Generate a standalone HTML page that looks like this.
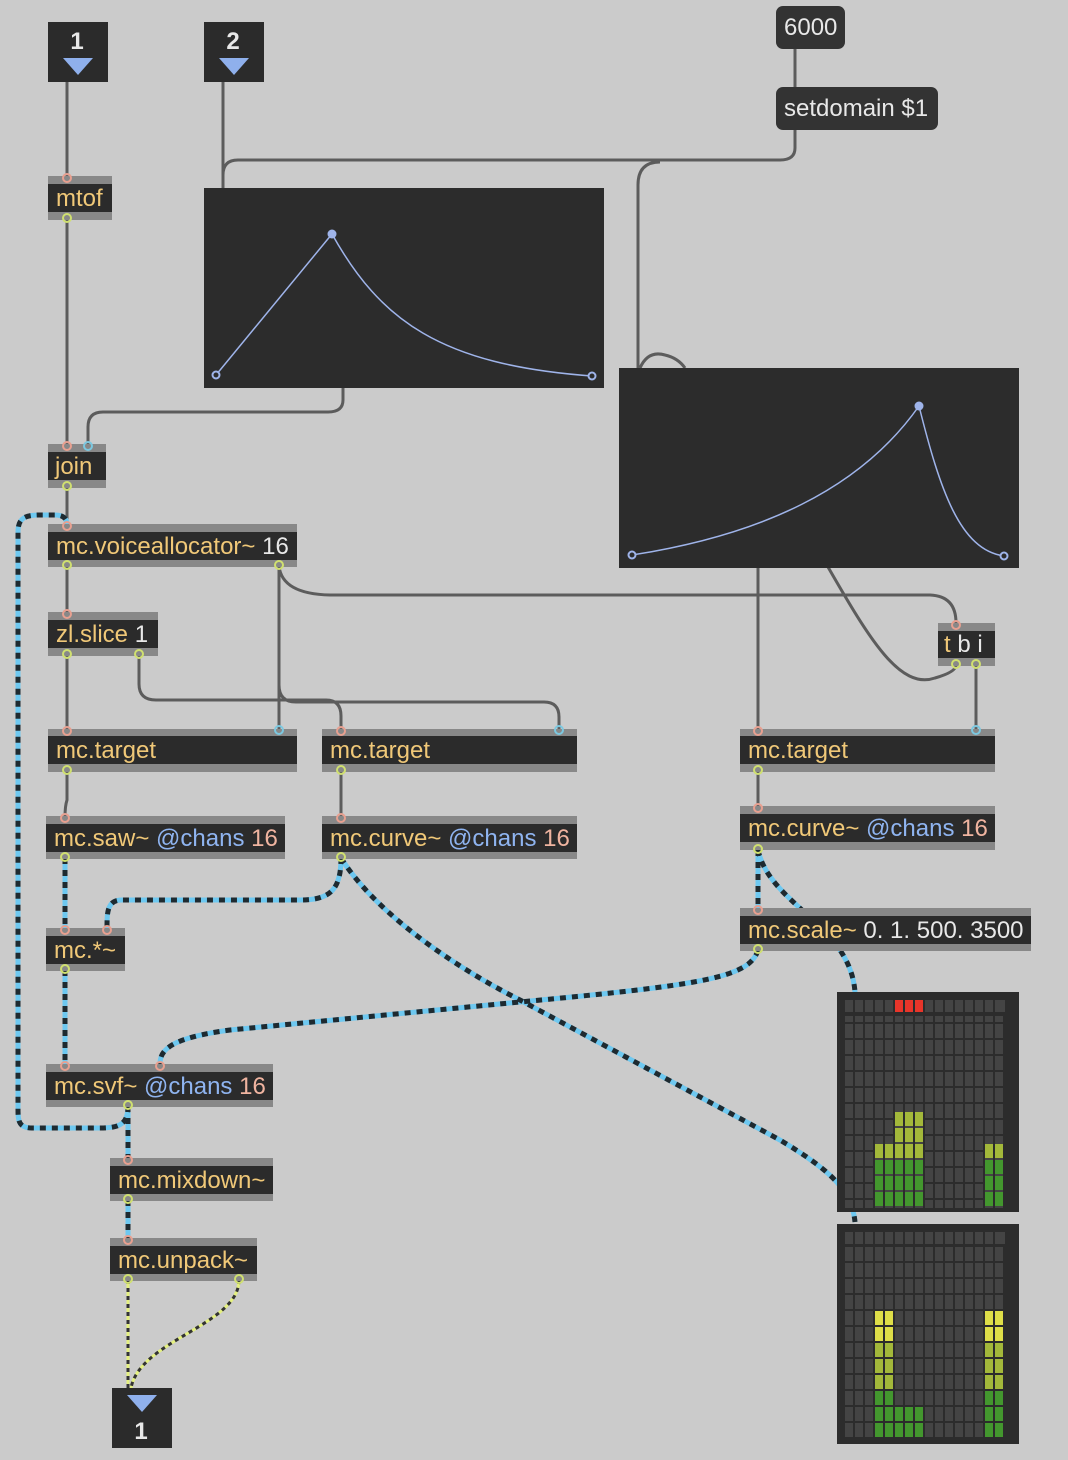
<!DOCTYPE html>
<html><head><meta charset="utf-8"><style>
html,body{margin:0;padding:0;background:#cbcbcb;}
svg{display:block;}
text{font-family:"Liberation Sans",sans-serif;font-size:24px;}
.o{fill:#f0c878}.w{fill:#e8e8e8}.b{fill:#8fb4f0}.p{fill:#f0b4a0}
.cc{fill:none;stroke:#5c5c5c;stroke-width:3;}
.mb{fill:none;stroke:#6ec8f0;stroke-width:5;}
.md{fill:none;stroke:#1e2a30;stroke-width:5;stroke-dasharray:6 6;}
</style></head><body>
<svg width="1068" height="1460" viewBox="0 0 1068 1460" xmlns="http://www.w3.org/2000/svg">
<defs>
<pattern id="cell" x="845" y="0" width="10" height="16" patternUnits="userSpaceOnUse"><rect x="0" y="0" width="8" height="14" fill="#444"/></pattern>
<pattern id="cell2" x="845" y="1247" width="10" height="16" patternUnits="userSpaceOnUse"><rect x="0" y="0" width="8" height="14" fill="#444"/></pattern>
<path id="c1" d="M65,858 V929"/>
<path id="c2" d="M341,858 C341,890 330,900 300,900 L122,900 C107,900 107,912 107,929"/>
<path id="c3" d="M341,858 C380,920 470,975 520,1000 L780,1140 C830,1170 852,1190 855,1222"/>
<path id="c4" d="M758,850 V908"/>
<path id="c5" d="M758,850 C770,905 850,925 855,992"/>
<path id="c6" d="M758,950 C750,978 700,985 520,1002 L230,1030 C170,1038 160,1050 160,1064"/>
<path id="c7" d="M65,970 V1064"/>
<path id="c8" d="M128,1106 V1159"/>
<path id="c9" d="M128,1106 C128,1124 120,1128 100,1128 L32,1128 C18,1128 18,1120 18,1108 L18,532 C18,518 25,515 40,515 L55,515 C65,515 67,520 67,525"/>
<path id="c10" d="M128,1200 V1239"/>
</defs>

<!-- control cables -->
<g class="cc">
<path d="M67,82 V176"/>
<path d="M67,220 V444"/>
<path d="M223,82 V188"/>
<path d="M795,49 V87"/>
<path d="M795,129 V148 Q795,160 780,160 H238 Q223,160 223,175 V188"/>
<path d="M660,162 Q638,162 638,185 V368"/>
<path d="M640,368 Q648,350 665,355 Q678,358 685,368"/>
<path d="M343,387 V400 Q343,412 328,412 H103 Q88,412 88,427 V444"/>
<path d="M67,487 V525"/>
<path d="M67,566 V612"/>
<path d="M279,566 V729"/>
<path d="M279,566 V685 Q279,702 296,702 H544 Q559,702 559,717 V729"/>
<path d="M279,566 Q282,594 330,595 H930 Q956,596 956,623"/>
<path d="M67,655 V729"/>
<path d="M139,655 V684 Q139,700 156,700 H326 Q341,700 341,716 V729"/>
<path d="M758,567 V729"/>
<path d="M828,567 C870,640 900,690 935,678 Q956,672 956,665"/>
<path d="M976,665 V729"/>
<path d="M67,771 V800 Q65,806 65,817"/>
<path d="M341,771 V817"/>
<path d="M758,771 V806"/>
</g>

<g class="mb">
<use href="#c1"/><use href="#c2"/><use href="#c3"/><use href="#c4"/><use href="#c5"/><use href="#c6"/><use href="#c7"/><use href="#c8"/><use href="#c9"/><use href="#c10"/>
</g>
<g class="md">
<use href="#c1"/><use href="#c2"/><use href="#c3"/><use href="#c4"/><use href="#c5"/><use href="#c6"/><use href="#c7"/><use href="#c8"/><use href="#c9"/><use href="#c10"/>
</g>
<path d="M128,1280 V1388" fill="none" stroke="#e4f080" stroke-width="3"/>
<path d="M239,1280 C239,1325 140,1340 131,1388" fill="none" stroke="#e4f080" stroke-width="3"/>
<path d="M128,1280 V1388" fill="none" stroke="#333" stroke-width="3" stroke-dasharray="4 4"/>
<path d="M239,1280 C239,1325 140,1340 131,1388" fill="none" stroke="#333" stroke-width="3" stroke-dasharray="4 4"/>

<rect x="48" y="22" width="60" height="60" fill="#2b2b2b"/>
<text x="77" y="49" text-anchor="middle" class="w" style="font-weight:bold">1</text>
<polygon points="63,58 93,58 78,75" fill="#8fb0ec"/>
<rect x="204" y="22" width="60" height="60" fill="#2b2b2b"/>
<text x="233" y="49" text-anchor="middle" class="w" style="font-weight:bold">2</text>
<polygon points="219,58 249,58 234,75" fill="#8fb0ec"/>
<rect x="112" y="1388" width="60" height="60" fill="#2b2b2b"/>
<polygon points="127,1395 157,1395 142,1412" fill="#8fb0ec"/>
<text x="141" y="1439" text-anchor="middle" class="w" style="font-weight:bold">1</text>

<rect x="776" y="6" width="69" height="43" rx="7" fill="#333"/>
<text x="784" y="35" class="w">6000</text>
<rect x="776" y="87" width="162" height="43" rx="7" fill="#333"/>
<text x="784" y="116" class="w">setdomain $1</text>

<rect x="204" y="188" width="400" height="200" fill="#2c2c2c"/>
<path d="M216,375 L332,234 C380,320 440,365 592,376" fill="none" stroke="#9fb4ea" stroke-width="1.5"/>
<g fill="#2c2c2c" stroke="#9fb4ea" stroke-width="2"><circle cx="216" cy="375" r="3.5"/><circle cx="592" cy="376" r="3.5"/></g>
<circle cx="332" cy="234" r="4.5" fill="#9fb4ea"/>
<rect x="619" y="368" width="400" height="200" fill="#2c2c2c"/>
<path d="M632,555 C760,535 860,490 919,406 C940,490 960,550 1004,556" fill="none" stroke="#9fb4ea" stroke-width="1.5"/>
<g fill="#2c2c2c" stroke="#9fb4ea" stroke-width="2"><circle cx="632" cy="555" r="3.5"/><circle cx="1004" cy="556" r="3.5"/></g>
<circle cx="919" cy="406" r="4.5" fill="#9fb4ea"/>

<g>
<rect x="48" y="176" width="64" height="44" fill="#888"/><rect x="48" y="184" width="64" height="28" fill="#2b2b2b"/>
<text x="56" y="206" class="o">mtof</text>
<rect x="48" y="444" width="58" height="44" fill="#888"/><rect x="48" y="452" width="58" height="28" fill="#2b2b2b"/>
<text x="55" y="474" class="o">join</text>
<rect x="48" y="524" width="249" height="43" fill="#888"/><rect x="48" y="532" width="249" height="28" fill="#2b2b2b"/>
<text x="56" y="554" class="o">mc.voiceallocator~ <tspan class="w">16</tspan></text>
<rect x="48" y="612" width="110" height="44" fill="#888"/><rect x="48" y="620" width="110" height="28" fill="#2b2b2b"/>
<text x="56" y="642" class="o">zl.slice <tspan class="w">1</tspan></text>
<rect x="938" y="623" width="57" height="43" fill="#888"/><rect x="938" y="631" width="57" height="27" fill="#2b2b2b"/>
<text x="944" y="652" class="o">t <tspan class="w">b i</tspan></text>
<rect x="48" y="729" width="249" height="43" fill="#888"/><rect x="48" y="736" width="249" height="28" fill="#2b2b2b"/>
<text x="56" y="758" class="o">mc.target</text>
<rect x="322" y="729" width="255" height="43" fill="#888"/><rect x="322" y="736" width="255" height="28" fill="#2b2b2b"/>
<text x="330" y="758" class="o">mc.target</text>
<rect x="740" y="729" width="255" height="43" fill="#888"/><rect x="740" y="736" width="255" height="28" fill="#2b2b2b"/>
<text x="748" y="758" class="o">mc.target</text>
<rect x="46" y="816" width="239" height="43" fill="#888"/><rect x="46" y="824" width="239" height="28" fill="#2b2b2b"/>
<text x="54" y="846" class="o">mc.saw~ <tspan class="b">@chans</tspan> <tspan class="p">16</tspan></text>
<rect x="322" y="816" width="255" height="43" fill="#888"/><rect x="322" y="824" width="255" height="28" fill="#2b2b2b"/>
<text x="330" y="846" class="o">mc.curve~ <tspan class="b">@chans</tspan> <tspan class="p">16</tspan></text>
<rect x="740" y="806" width="255" height="44" fill="#888"/><rect x="740" y="814" width="255" height="28" fill="#2b2b2b"/>
<text x="748" y="836" class="o">mc.curve~ <tspan class="b">@chans</tspan> <tspan class="p">16</tspan></text>
<rect x="46" y="928" width="79" height="43" fill="#888"/><rect x="46" y="936" width="79" height="28" fill="#2b2b2b"/>
<text x="54" y="958" class="o">mc.*~</text>
<rect x="740" y="908" width="291" height="43" fill="#888"/><rect x="740" y="916" width="291" height="28" fill="#2b2b2b"/>
<text x="748" y="938" class="o">mc.scale~ <tspan class="w">0. 1. 500. 3500</tspan></text>
<rect x="46" y="1064" width="227" height="43" fill="#888"/><rect x="46" y="1072" width="227" height="28" fill="#2b2b2b"/>
<text x="54" y="1094" class="o">mc.svf~ <tspan class="b">@chans</tspan> <tspan class="p">16</tspan></text>
<rect x="110" y="1158" width="163" height="43" fill="#888"/><rect x="110" y="1166" width="163" height="28" fill="#2b2b2b"/>
<text x="118" y="1188" class="o">mc.mixdown~</text>
<rect x="110" y="1238" width="147" height="43" fill="#888"/><rect x="110" y="1246" width="147" height="28" fill="#2b2b2b"/>
<text x="118" y="1268" class="o">mc.unpack~</text>
</g>

<g fill="none" stroke="#e8a090" stroke-width="2">
<circle cx="67" cy="178" r="4"/><circle cx="67" cy="446" r="4"/><circle cx="88" cy="446" r="4" stroke="#7cc8e0"/>
<circle cx="67" cy="526" r="4"/><circle cx="67" cy="614" r="4"/><circle cx="956" cy="625" r="4"/>
<circle cx="67" cy="731" r="4"/><circle cx="341" cy="731" r="4"/><circle cx="758" cy="731" r="4"/>
<circle cx="279" cy="730" r="4" stroke="#7cc8e0"/><circle cx="559" cy="730" r="4" stroke="#7cc8e0"/><circle cx="976" cy="730" r="4" stroke="#7cc8e0"/>
<circle cx="65" cy="818" r="4"/><circle cx="341" cy="818" r="4"/><circle cx="758" cy="808" r="4"/>
<circle cx="65" cy="930" r="4"/><circle cx="107" cy="930" r="4"/><circle cx="758" cy="910" r="4"/>
<circle cx="65" cy="1066" r="4"/><circle cx="160" cy="1066" r="4"/><circle cx="128" cy="1160" r="4"/><circle cx="128" cy="1240" r="4"/>
</g>
<g fill="none" stroke="#d0e070" stroke-width="2">
<circle cx="67" cy="218" r="4"/><circle cx="67" cy="486" r="4"/><circle cx="67" cy="565" r="4"/><circle cx="279" cy="565" r="4"/>
<circle cx="67" cy="654" r="4"/><circle cx="139" cy="654" r="4"/><circle cx="956" cy="664" r="4"/><circle cx="976" cy="664" r="4"/>
<circle cx="67" cy="770" r="4"/><circle cx="341" cy="770" r="4"/><circle cx="758" cy="770" r="4"/>
<circle cx="65" cy="857" r="4"/><circle cx="341" cy="857" r="4"/><circle cx="758" cy="849" r="4"/>
<circle cx="65" cy="969" r="4"/><circle cx="758" cy="949" r="4"/><circle cx="128" cy="1105" r="4"/><circle cx="128" cy="1199" r="4"/>
<circle cx="128" cy="1279" r="4"/><circle cx="239" cy="1279" r="4"/>
</g>

<rect x="837" y="992" width="182" height="220" fill="#2c2c2c"/>
<rect x="845" y="1000" width="160" height="12" fill="#444"/>
<g fill="#2c2c2c"><rect x="853" y="1000" width="2" height="12"/><rect x="863" y="1000" width="2" height="12"/><rect x="873" y="1000" width="2" height="12"/><rect x="883" y="1000" width="2" height="12"/><rect x="893" y="1000" width="2" height="12"/><rect x="903" y="1000" width="2" height="12"/><rect x="913" y="1000" width="2" height="12"/><rect x="923" y="1000" width="2" height="12"/><rect x="933" y="1000" width="2" height="12"/><rect x="943" y="1000" width="2" height="12"/><rect x="953" y="1000" width="2" height="12"/><rect x="963" y="1000" width="2" height="12"/><rect x="973" y="1000" width="2" height="12"/><rect x="983" y="1000" width="2" height="12"/><rect x="993" y="1000" width="2" height="12"/></g>
<rect x="845" y="1016" width="160" height="192" fill="url(#cell)"/>
<g fill="#e8352a"><rect x="895" y="1000" width="8" height="12"/><rect x="905" y="1000" width="8" height="12"/><rect x="915" y="1000" width="8" height="12"/></g>
<g fill="#a3b83a">
<rect x="895" y="1112" width="28" height="14"/><rect x="895" y="1128" width="28" height="14"/>
<rect x="875" y="1144" width="48" height="14"/><rect x="985" y="1144" width="18" height="14"/>
</g>
<g fill="#43972e">
<rect x="875" y="1160" width="48" height="14"/><rect x="985" y="1160" width="18" height="14"/>
<rect x="875" y="1176" width="48" height="14"/><rect x="985" y="1176" width="18" height="14"/>
<rect x="875" y="1192" width="48" height="14"/><rect x="985" y="1192" width="18" height="14"/>
</g>
<g fill="#2c2c2c"><rect x="883" y="1112" width="2" height="96"/><rect x="893" y="1112" width="2" height="96"/><rect x="903" y="1112" width="2" height="96"/><rect x="913" y="1112" width="2" height="96"/><rect x="993" y="1112" width="2" height="96"/></g>

<rect x="837" y="1224" width="182" height="220" fill="#2c2c2c"/>
<rect x="845" y="1232" width="160" height="12" fill="#444"/>
<g fill="#2c2c2c"><rect x="853" y="1232" width="2" height="12"/><rect x="863" y="1232" width="2" height="12"/><rect x="873" y="1232" width="2" height="12"/><rect x="883" y="1232" width="2" height="12"/><rect x="893" y="1232" width="2" height="12"/><rect x="903" y="1232" width="2" height="12"/><rect x="913" y="1232" width="2" height="12"/><rect x="923" y="1232" width="2" height="12"/><rect x="933" y="1232" width="2" height="12"/><rect x="943" y="1232" width="2" height="12"/><rect x="953" y="1232" width="2" height="12"/><rect x="963" y="1232" width="2" height="12"/><rect x="973" y="1232" width="2" height="12"/><rect x="983" y="1232" width="2" height="12"/><rect x="993" y="1232" width="2" height="12"/></g>
<rect x="845" y="1247" width="160" height="192" fill="url(#cell2)"/>
<g fill="#dede48">
<rect x="875" y="1311" width="18" height="14"/><rect x="985" y="1311" width="18" height="14"/>
<rect x="875" y="1327" width="18" height="14"/><rect x="985" y="1327" width="18" height="14"/>
</g>
<g fill="#a3b83a">
<rect x="875" y="1343" width="18" height="14"/><rect x="985" y="1343" width="18" height="14"/>
<rect x="875" y="1359" width="18" height="14"/><rect x="985" y="1359" width="18" height="14"/>
<rect x="875" y="1375" width="18" height="14"/><rect x="985" y="1375" width="18" height="14"/>
</g>
<g fill="#43972e">
<rect x="875" y="1391" width="18" height="14"/><rect x="985" y="1391" width="18" height="14"/>
<rect x="875" y="1407" width="48" height="14"/><rect x="985" y="1407" width="18" height="14"/>
<rect x="875" y="1423" width="48" height="14"/><rect x="985" y="1423" width="18" height="14"/>
</g>
<g fill="#2c2c2c"><rect x="883" y="1311" width="2" height="128"/><rect x="893" y="1407" width="2" height="32"/><rect x="903" y="1407" width="2" height="32"/><rect x="913" y="1407" width="2" height="32"/><rect x="993" y="1311" width="2" height="128"/></g>
</svg>
</body></html>
